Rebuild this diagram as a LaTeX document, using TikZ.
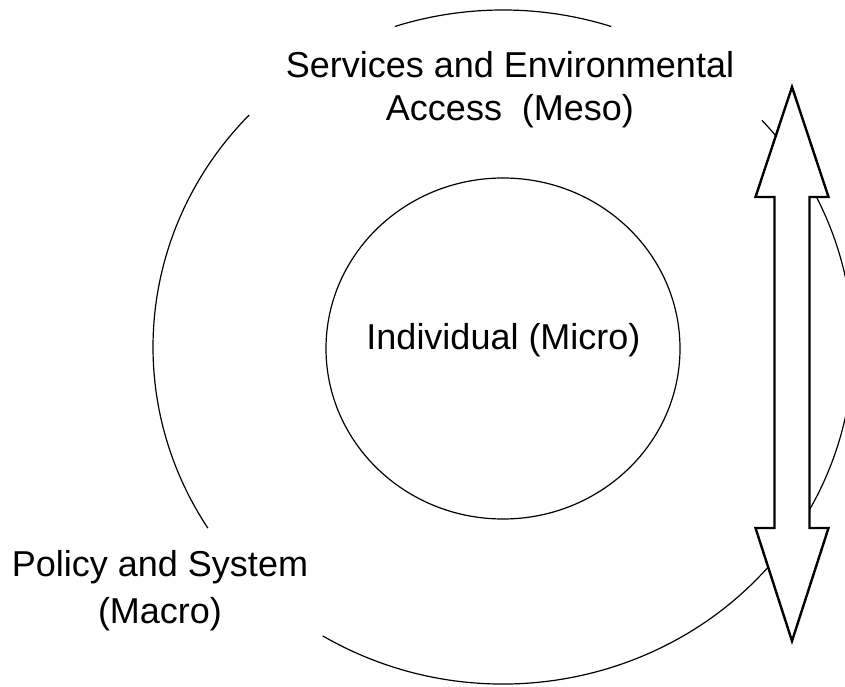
\documentclass[tikz,border=0pt]{standalone}
\usepackage{fontspec}
\setmainfont{Liberation Sans}

\begin{document}
\begin{tikzpicture}[x=1pt,y=1pt,
    ring/.style={line width=1.2pt},
    levelname/.style={align=center, inner sep=0pt},
    updown/.style={line width=2.4pt, fill=white, miter limit=20}]
\useasboundingbox (0,0) rectangle (845,686);
\def\cx{503} % centre of the rings
\def\cy{339}

% Outer ring (slightly wide), left open where the labels sit
\foreach \a/\b in {72/108, 136.5/212.5, 239/402.3}{
    \draw[ring] ({\cx+350*cos(\a)},{\cy+337*sin(\a)}) arc[start angle=\a, end angle=\b, x radius=350, y radius=337];
}

% Inner ring
\draw[ring] (\cx,337.5) ellipse[x radius=177, y radius=170.5];

% Level names
\node[levelname, font=\fontsize{36}{43}\selectfont, anchor=north] (meso) at (510,635) {Services and Environmental\\Access\ \ (Meso)};
\node[levelname, font=\fontsize{36}{43}\selectfont, anchor=base] (micro) at (503.5,337) {Individual (Micro)};
\node[levelname, font=\fontsize{36}{47}\selectfont, anchor=north] (macro) at (160,136) {Policy and System\\(Macro)};

% Two-way block arrow on top of the outer ring
\draw[updown] (792,599) -- (828.5,489) -- (809.5,489) -- (809.5,158) -- (828.5,158)
    -- (792,45) -- (755.5,158) -- (774.5,158) -- (774.5,489) -- (755.5,489) -- cycle;

\end{tikzpicture}
\end{document}
